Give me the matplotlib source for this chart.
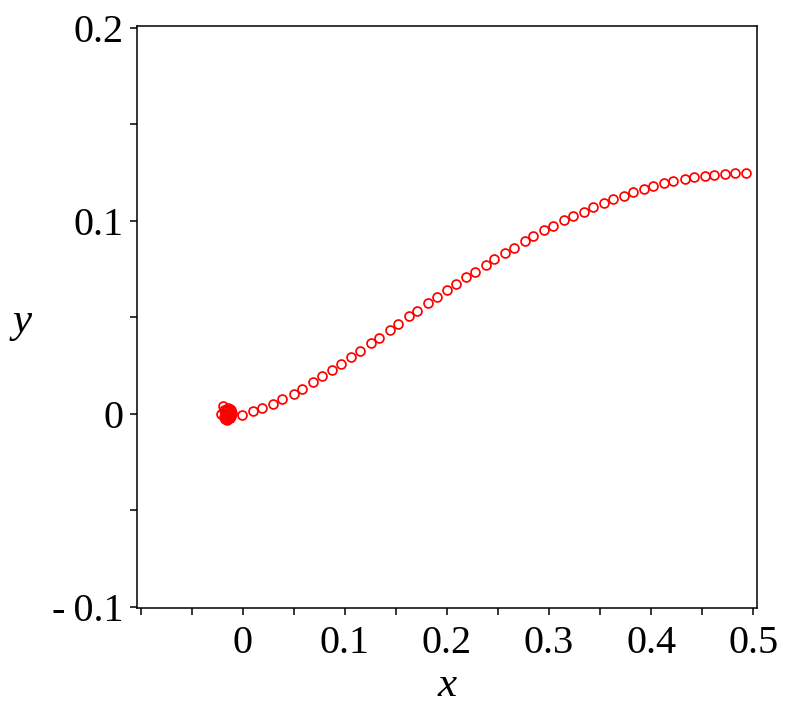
import numpy as np
import matplotlib.pyplot as plt

plt.rcParams['font.family'] = 'Liberation Serif'

# punktid lähtepunkti ümber (tihe kobar)
kobar_x = [-0.0215, -0.0190, -0.0175, -0.0160, -0.0150, -0.0140, -0.0130,
           -0.0120, -0.0110, -0.0135, -0.0155, -0.0170, -0.0125, -0.0145,
           -0.0180, -0.0165, -0.0150, -0.0135, -0.0120, -0.0160, -0.0140,
           -0.0125, -0.0185, -0.0150]
kobar_y = [0.0000, 0.0040, -0.0025, 0.0020, -0.0030, 0.0010, 0.0025,
           -0.0010, 0.0005, -0.0020, 0.0000, -0.0005, 0.0015, 0.0030,
           -0.0015, 0.0012, 0.0018, 0.0008, 0.0018, -0.0018, -0.0012,
           -0.0022, 0.0018, 0.0000]

# trajektoori punktid
traj_x = [-0.001, 0.010, 0.019, 0.0296, 0.0384, 0.0497, 0.058, 0.0685, 0.0771,
          0.0877, 0.0959, 0.1063, 0.1148, 0.1253, 0.1334, 0.1439, 0.1523,
          0.1628, 0.1709, 0.1814, 0.1899, 0.2000, 0.2085, 0.2189, 0.2274,
          0.2379, 0.2460, 0.2568, 0.2653, 0.2761, 0.2845, 0.2953, 0.3038,
          0.3146, 0.3234, 0.3342, 0.3427, 0.3535, 0.3623, 0.3731, 0.3819,
          0.3926, 0.4015, 0.4125, 0.4216, 0.4328, 0.4416, 0.4527, 0.4615,
          0.4726, 0.4818, 0.4926]
traj_y = [-0.0006, 0.0013, 0.0030, 0.0052, 0.0074, 0.0103, 0.0129, 0.0165,
          0.0193, 0.0229, 0.0257, 0.0295, 0.0326, 0.0366, 0.0394, 0.0433,
          0.0465, 0.0505, 0.0534, 0.0574, 0.0603, 0.0641, 0.0672, 0.0709,
          0.0737, 0.0773, 0.0801, 0.0835, 0.0861, 0.0896, 0.0920, 0.0950,
          0.0974, 0.1002, 0.1024, 0.1048, 0.1069, 0.1093, 0.1111, 0.1131,
          0.1147, 0.1164, 0.1178, 0.1194, 0.1206, 0.1216, 0.1226, 0.1233,
          0.1238, 0.1244, 0.1247, 0.1249]

x_pos = [0, 0.1, 0.2, 0.3, 0.4, 0.5]
x_sildid = ['0', '0.1', '0.2', '0.3', '0.4', '0.5']
y_pos = [-0.1, 0, 0.1, 0.2]
y_sildid = ['-\u20090.1', '0', '0.1', '0.2']

fig = plt.figure(figsize=(7.9, 7.12), dpi=100)
ax = fig.add_axes([0.1738, 0.1457, 0.784, 0.8171])

ax.plot(kobar_x + traj_x, kobar_y + traj_y, 'o', linestyle='none',
        markerfacecolor='none', markeredgecolor='#ff0000',
        markersize=6.4, markeredgewidth=1.25)

ax.set_xlim(-0.10333, 0.50333)
ax.set_ylim(-0.10083, 0.2007)

ax.set_xticks(x_pos)
ax.set_xticklabels(x_sildid)
ax.set_xticks(np.arange(-0.1, 0.5001, 0.05), minor=True)
ax.set_yticks(y_pos)
ax.set_yticklabels(y_sildid)
ax.set_yticks(np.arange(-0.1, 0.2001, 0.05), minor=True)

for sp in ax.spines.values():
    sp.set_linewidth(1.1)
ax.tick_params(which='both', direction='out', length=5, width=1.1)
ax.tick_params(axis='x', which='major', labelsize=29, pad=7)
ax.tick_params(axis='y', which='major', labelsize=29, pad=5)
ax.tick_params(top=False, right=False)

fig.text(447 / 790, 1 - 686 / 712, 'x', fontsize=31, style='italic',
         ha='center', va='center')
fig.text(22 / 790, 1 - 322 / 712, 'y', fontsize=31, style='italic',
         ha='center', va='center')

plt.savefig('out.png', dpi=100)
plt.close()
